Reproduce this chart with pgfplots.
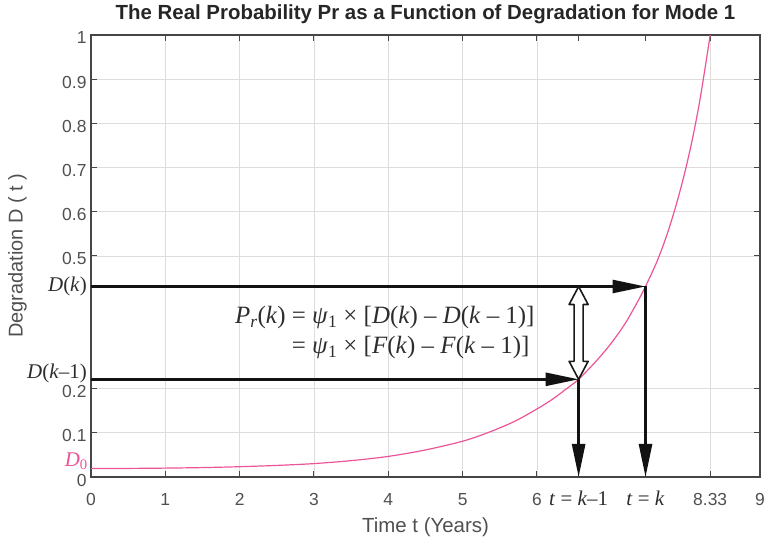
\documentclass[border=0pt]{standalone}
\usepackage{fontspec}
\setmainfont{Liberation Sans}
\newfontfamily\tms{Liberation Serif}
\usepackage{pgfplots}
\usepackage{pgfplotstable}
\pgfplotsset{compat=1.18}
\usetikzlibrary{arrows.meta,calc}

\definecolor{curvepink}{RGB}{236,84,152}
\definecolor{axgray}{RGB}{70,70,70}
\definecolor{txtgray}{RGB}{80,80,80}
\definecolor{titlegray}{RGB}{38,38,38}
\definecolor{mathgray}{RGB}{45,45,45}
\definecolor{gridgray}{RGB}{224,220,220}

\newcommand{\iv}[1]{\textit{#1}}

% degradation D(t) for mode 1
\pgfplotstableread{
t     D
0     0.0190
0.5   0.0194
1     0.0201
1.5   0.0213
2     0.0233
2.5   0.0262
3     0.0303
3.5   0.0370
4     0.0466
4.5   0.0612
5     0.0810
5.35  0.1010
5.7   0.1260
6.0   0.1540
6.2   0.1750
6.4   0.2000
6.56  0.2210
6.8   0.2630
7.0   0.3030
7.2   0.3510
7.4   0.4110
7.46  0.4310
7.6   0.4820
7.7   0.5250
7.8   0.5750
7.9   0.6320
8.0   0.6970
8.1   0.7720
8.2   0.8610
8.33  1.0000
}\degr

\begin{document}
\begin{tikzpicture}
\path[use as bounding box] (0,0) rectangle (765bp,538bp);
\begin{axis}[
  at={(91bp,61bp)}, anchor=south west,
  scale only axis, width=669bp, height=442bp,
  xmin=0, xmax=9, ymin=0, ymax=1,
  clip=false,
  xtick={0,1,2,3,4,5,6,8.33,9},
  xticklabels={0,1,2,3,4,5,6,8.33,9},
  ytick={0,0.1,0.2,0.5,0.6,0.7,0.8,0.9,1},
  yticklabels={0,0.1,0.2,0.5,0.6,0.7,0.8,0.9,1},
  extra x ticks={6.56,7.46},
  extra x tick labels={{\iv{t} = \iv{k}–1},{\iv{t} = \iv{k}}},
  extra x tick style={grid=none,
    tick label style={font=\tms\fontsize{21}{24}\selectfont, text=mathgray}},
  grid=major,
  major grid style={gridgray, line width=0.9bp},
  tick align=inside,
  major tick length=6bp,
  tick style={axgray, line width=1bp},
  axis line style={axgray, line width=1.3bp},
  tick label style={font=\fontsize{17.5}{20}\selectfont, text=txtgray},
  xticklabel style={anchor=base, yshift=-28bp},
  yticklabel style={xshift=-1bp, yshift=-3bp},
  title={The Real Probability Pr as a Function of Degradation for Mode 1},
  title style={at={(axis description cs:0.5,1.0226)}, anchor=base,
    font=\fontsize{20.5}{24}\selectfont\bfseries, text=titlegray},
  xlabel={Time t (Years)},
  xlabel style={at={(axis description cs:0.5,-0.1267)}, anchor=base,
    font=\fontsize{20.5}{24}\selectfont, text=txtgray},
  ylabel={Degradation D ( t )},
  ylabel style={at={(axis description cs:-0.1099,0.5)}, anchor=center,
    font=\fontsize{20}{24}\selectfont, text=txtgray},
]
\addplot[curvepink, line width=1.2bp, smooth] table[x=t, y=D] {\degr};

% projections of D(k-1) and D(k)
\draw[black!93, line width=2.6bp, -{Triangle[length=33bp,width=13bp]}]
  (axis cs:0,0.431) -- (axis cs:7.46,0.431);
\draw[black!93, line width=2.6bp, -{Triangle[length=33bp,width=13bp]}]
  (axis cs:0,0.221) -- (axis cs:6.56,0.221);
\draw[black!93, line width=2.6bp, -{Triangle[length=33bp,width=13bp]}]
  (axis cs:7.46,0.431) -- (axis cs:7.46,0);
\draw[black!93, line width=2.6bp, -{Triangle[length=33bp,width=13bp]}]
  (axis cs:6.56,0.221) -- (axis cs:6.56,0);

% hollow double arrow for the increment D(k) - D(k-1)
\coordinate (B) at (axis cs:6.56,0.221);
\coordinate (T) at (axis cs:6.56,0.431);
\draw[black!90, line width=1.6bp, fill=white, line join=round]
  (B) -- ($(B)+(9.5bp,18bp)$) -- ($(B)+(4.5bp,18bp)$)
  -- ($(T)+(4.5bp,-18bp)$) -- ($(T)+(9.5bp,-18bp)$) -- (T)
  -- ($(T)+(-9.5bp,-18bp)$) -- ($(T)+(-4.5bp,-18bp)$)
  -- ($(B)+(-4.5bp,18bp)$) -- ($(B)+(-9.5bp,18bp)$) -- cycle;

\node[anchor=east, inner sep=0pt, text=mathgray,
      font=\tms\fontsize{25}{30}\selectfont] at (axis cs:5.97,0.326)
  {\begin{tabular}{@{}r@{}l@{}}
   \iv{P}\textsubscript{\iv{r}}(\iv{k}) & \ = \iv{ψ}\textsubscript{1} × [\iv{D}(\iv{k}) – \iv{D}(\iv{k} – 1)]\\
   & \ = \iv{ψ}\textsubscript{1} × [\iv{F}(\iv{k}) – \iv{F}(\iv{k} – 1)]
   \end{tabular}};

% labels of the projected levels on the degradation axis
\node[anchor=east, inner sep=0pt, text=mathgray, xshift=-4bp,
      font=\tms\fontsize{21}{24}\selectfont] at (axis cs:0,0.431)
  {\iv{D}(\iv{k})};
\node[anchor=east, inner sep=0pt, text=mathgray, xshift=-4bp, yshift=6bp,
      font=\tms\fontsize{21}{24}\selectfont] at (axis cs:0,0.221)
  {\iv{D}(\iv{k}–1)};
\node[anchor=base east, inner sep=0pt, text=curvepink,
      font=\tms\fontsize{21}{24}\selectfont, xshift=-3bp] at (axis cs:0,0.024)
  {\iv{D}\textsubscript{0}};
\end{axis}
\end{tikzpicture}
\end{document}
